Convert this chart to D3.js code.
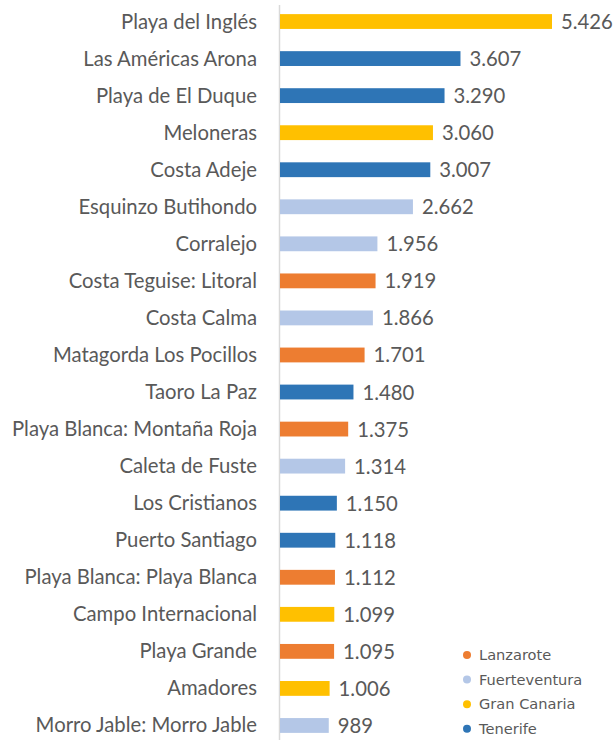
<!DOCTYPE html>
<html lang="es">
<head>
<meta charset="utf-8">
<title>Zonas turísticas</title>
<script src="https://d3js.org/d3.v7.min.js"></script>
<style>
  body { margin: 0; background: #fff; }
  .cat { font: 20.3px Lato, "Open Sans", sans-serif; fill: #595959; }
  .val { font: 20.3px Lato, "Open Sans", sans-serif; fill: #595959; }
  .leg { font: 14.6px "DejaVu Sans", sans-serif; fill: #595959; }
</style>
</head>
<body>
<div id="vis-container"></div>
<script>
// data
var names = ["Playa del Inglés", "Las Américas Arona", "Playa de El Duque", "Meloneras", "Costa Adeje",
  "Esquinzo Butihondo", "Corralejo", "Costa Teguise: Litoral", "Costa Calma", "Matagorda Los Pocillos",
  "Taoro La Paz", "Playa Blanca: Montaña Roja", "Caleta de Fuste", "Los Cristianos", "Puerto Santiago",
  "Playa Blanca: Playa Blanca", "Campo Internacional", "Playa Grande", "Amadores", "Morro Jable: Morro Jable"];
var values = [5426, 3607, 3290, 3060, 3007, 2662, 1956, 1919, 1866, 1701,
  1480, 1375, 1314, 1150, 1118, 1112, 1099, 1095, 1006, 989];
var islands = ["Gran Canaria", "Tenerife", "Tenerife", "Gran Canaria", "Tenerife",
  "Fuerteventura", "Fuerteventura", "Lanzarote", "Fuerteventura", "Lanzarote",
  "Tenerife", "Lanzarote", "Fuerteventura", "Tenerife", "Tenerife",
  "Lanzarote", "Gran Canaria", "Lanzarote", "Gran Canaria", "Fuerteventura"];
var legendItems = ["Lanzarote", "Fuerteventura", "Gran Canaria", "Tenerife"];
var islandColors = ["#ED7D31", "#B4C7E7", "#FFC000", "#2E75B6"];

var width = 614, height = 740;
var svg = d3.select("#vis-container").append("svg")
    .attr("width", width).attr("height", height);

var color = d3.scaleOrdinal().domain(legendItems).range(islandColors);
var x = d3.scaleLinear().domain([0, 5426]).range([279, 552]);
var y = d3.scaleBand().domain(names).range([3, 744]).paddingInner(0.6).paddingOuter(0.3);

var es = d3.formatLocale({ decimal: ",", thousands: ".", grouping: [3], currency: ["", "€"] });
var fmt = es.format(",d");

// vertical axis line
svg.append("line")
    .attr("x1", 279.5).attr("x2", 279.5)
    .attr("y1", 5).attr("y2", height)
    .style("stroke", "#d9d9d9").style("stroke-width", 1.5);

var rows = names.map(function(n, i) { return { name: n, value: values[i], island: islands[i] }; });

svg.selectAll(".bar").data(rows).enter().append("rect")
    .attr("class", "bar")
    .attr("x", x(0) + 1)
    .attr("y", function(d) { return y(d.name); })
    .attr("width", function(d) { return x(d.value) - x(0) - 1; })
    .attr("height", y.bandwidth())
    .style("fill", function(d) { return color(d.island); });

svg.selectAll(".cat").data(rows).enter().append("text")
    .attr("class", "cat")
    .attr("x", 257)
    .attr("y", function(d) { return y(d.name) + y.bandwidth() / 2 + 7; })
    .style("text-anchor", "end")
    .text(function(d) { return d.name; });

svg.selectAll(".val").data(rows).enter().append("text")
    .attr("class", "val")
    .attr("x", function(d) { return x(d.value) + 9; })
    .attr("y", function(d) { return y(d.name) + y.bandwidth() / 2 + 7.5; })
    .text(function(d) { return fmt(d.value); });

// legend
var leg = svg.selectAll(".legrow").data(legendItems).enter().append("g")
    .attr("class", "legrow")
    .attr("transform", function(d, i) { return "translate(467," + (655 + i * 24.6) + ")"; });
leg.append("circle").attr("r", 4).style("fill", function(d) { return color(d); });
leg.append("text").attr("class", "leg").attr("x", 12).attr("dy", "0.35em")
    .text(function(d) { return d; });
</script>
</body>
</html>
